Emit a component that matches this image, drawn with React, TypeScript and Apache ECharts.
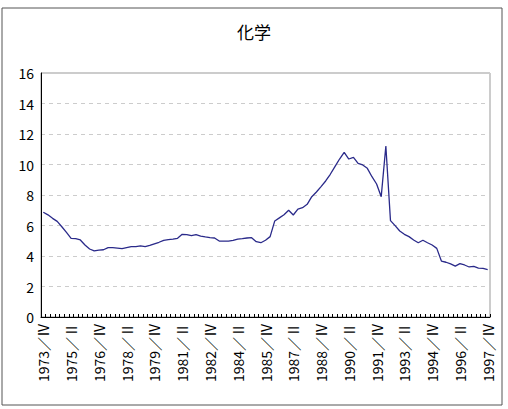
import React, { useEffect, useRef } from "react";
import * as echarts from "echarts";

const TITLE = "化学";
const START_YEAR = 1973;
const END_YEAR = 1997;
const QUARTER_NAMES = ["Ⅰ", "Ⅱ", "Ⅲ", "Ⅳ"];

const categories: string[] = [];
for (let y = START_YEAR; y <= END_YEAR; y++) {
  for (let q = 0; q < 4; q++) {
    if (y === START_YEAR && q < 3) continue;
    categories.push(`${y}／${QUARTER_NAMES[q]}`);
  }
}

const values: number[] = [
  6.87, 6.7, 6.47, 6.27, 5.92, 5.55, 5.16, 5.14, 5.05, 4.72,
  4.46, 4.33, 4.39, 4.41, 4.55, 4.55, 4.52, 4.48, 4.55, 4.61,
  4.61, 4.66, 4.61, 4.69, 4.8, 4.9, 5.03, 5.07, 5.11, 5.16,
  5.42, 5.4, 5.33, 5.4, 5.31, 5.25, 5.2, 5.18, 4.98, 4.98,
  4.98, 5.02, 5.11, 5.14, 5.18, 5.2, 4.94, 4.87, 5.03, 5.27,
  6.3, 6.5, 6.7, 7.0, 6.69, 7.08, 7.17, 7.39, 7.89, 8.2,
  8.55, 8.92, 9.36, 9.86, 10.36, 10.8, 10.36, 10.47, 10.08, 9.97,
  9.75, 9.2, 8.72, 7.89, 11.21, 6.32, 5.99, 5.64, 5.42, 5.27,
  5.05, 4.87, 5.03, 4.87, 4.72, 4.5, 3.67, 3.59, 3.48, 3.34,
  3.5, 3.41, 3.28, 3.32, 3.21, 3.19, 3.1,
];

const Y_MIN = 0;
const Y_MAX = 16;
const Y_STEP = 2;

const FONT = "'Noto Sans CJK JP', sans-serif";

export default function App() {
  const ref = useRef<HTMLDivElement>(null);
  useEffect(() => {
    if (!ref.current) return;
    const chart = echarts.init(ref.current, undefined, { renderer: "svg" });
    chart.setOption({
      animation: false,
      backgroundColor: "#fff",
      title: {
        text: TITLE,
        left: "center",
        top: 18,
        textStyle: {
          fontFamily: FONT,
          fontSize: 17,
          fontWeight: "normal",
          color: "#000",
        },
      },
      graphic: [
        {
          type: "rect",
          shape: { x: 2, y: 8, width: 500, height: 397 },
          style: { fill: "none", stroke: "#555", lineWidth: 1 },
          silent: true,
          z: -1,
        },
      ],
      grid: {
        left: 41,
        right: 18,
        top: 73,
        bottom: 92,
        show: true,
        borderColor: "#999",
        borderWidth: 1,
      },
      xAxis: {
        type: "category",
        data: categories,
        boundaryGap: true,
        axisLine: { lineStyle: { color: "#000", width: 1 } },
        axisTick: {
          show: true,
          inside: true,
          length: 3,
          interval: 0,
          lineStyle: { color: "#000" },
        },
        axisLabel: {
          interval: 5,
          rotate: 90,
          margin: 6,
          fontSize: 14,
          color: "#000",
          fontFamily: FONT,
        },
        splitLine: { show: false },
      },
      yAxis: {
        type: "value",
        min: Y_MIN,
        max: Y_MAX,
        interval: Y_STEP,
        axisLine: { show: true, lineStyle: { color: "#000", width: 1 } },
        axisTick: { show: false },
        axisLabel: {
          fontSize: 14,
          color: "#000",
          margin: 7,
          fontFamily: FONT,
        },
        splitLine: {
          show: true,
          lineStyle: { color: "#ccc", type: [4, 4], width: 1 },
        },
      },
      series: [
        {
          type: "line",
          data: values,
          symbol: "none",
          lineStyle: { color: "#2a2a8a", width: 1.3 },
        },
      ],
    });
    return () => chart.dispose();
  }, []);
  return (
    <div
      ref={ref}
      style={{ position: "absolute", left: 0, top: 0, width: 508, height: 409 }}
    />
  );
}
